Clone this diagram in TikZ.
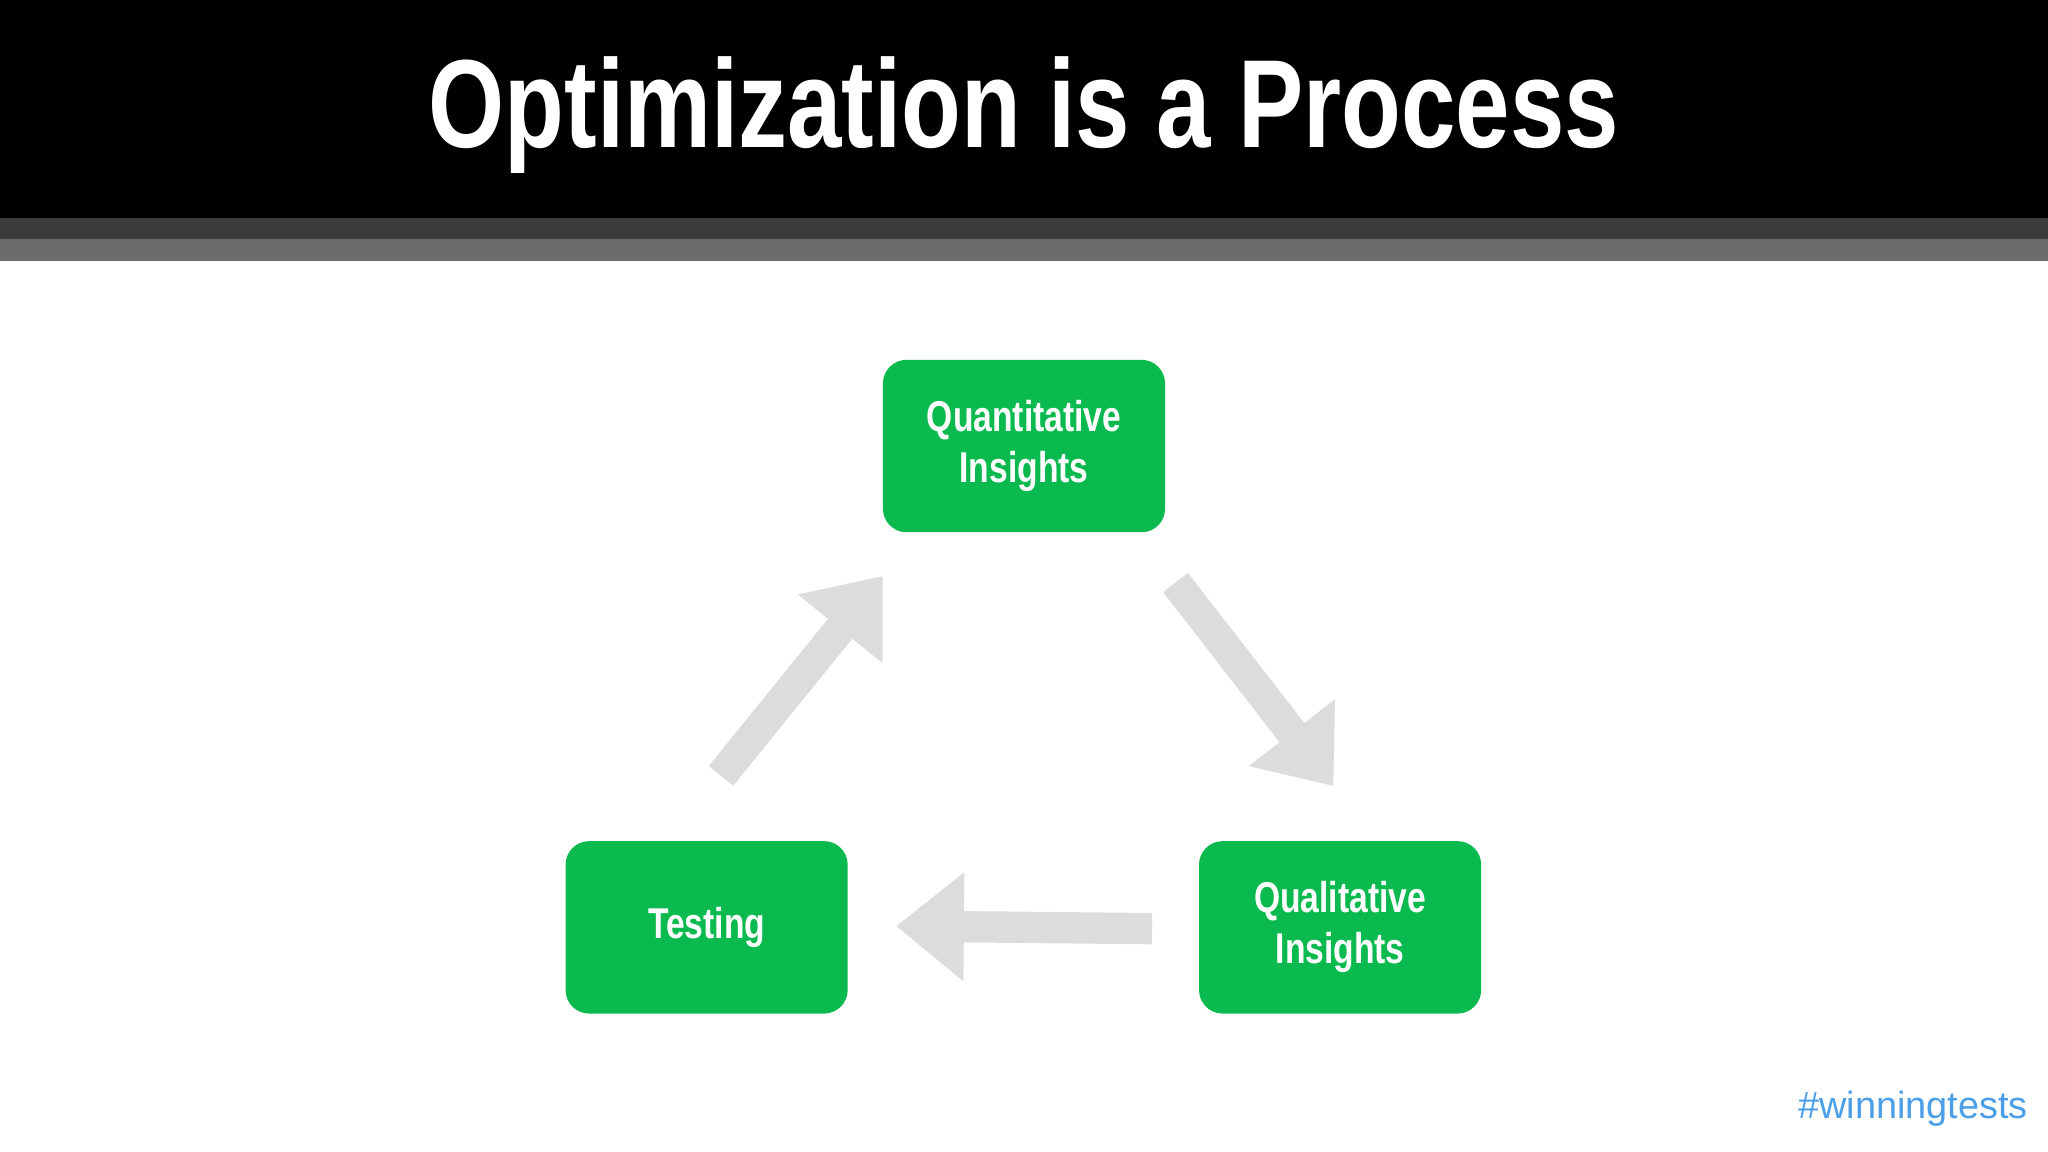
\documentclass[tikz,border=0pt]{standalone}
\usepackage{fontspec}
\setmainfont{Liberation Sans}
\newfontfamily\condb[FakeStretch=0.78]{Liberation Sans Bold}
\usetikzlibrary{arrows.meta}
\definecolor{grn}{HTML}{0BBA4E}
\definecolor{arr}{HTML}{DCDCDC}
\definecolor{tagblue}{HTML}{4A9FE8}
\tikzset{
  box/.style={fill=grn,rounded corners=18pt,minimum width=216pt,minimum height=132pt,text=white,align=center,font=\condb\fontsize{33}{39}\selectfont,inner sep=0pt},
  bigarrow/.style={draw=arr,line width=24pt,-{Triangle[length=52pt,width=80pt]}}
}
\begin{document}
\begin{tikzpicture}[x=1pt,y=-1pt]
\useasboundingbox (0,0) rectangle (1568,882);
\fill[white] (0,0) rectangle (1568,882);
\fill[black] (0,0) rectangle (1568,167);
\fill[black!77] (0,167) rectangle (1568,183);
\fill[black!58] (0,183) rectangle (1568,200);
\node[text=white,font=\condb\fontsize{96}{100}\selectfont] (title) at (784,88) {Optimization is a Process};
\node[box] (qn) at (784,341.5) {Quantitative\\Insights};
\node[box] (ts) at (541,710) {Testing};
\node[box] (ql) at (1026,710) {Qualitative\\Insights};
\coordinate (a1s) at (552,594); \coordinate (a1e) at (676,441);
\coordinate (a2s) at (900,446); \coordinate (a2e) at (1021,602);
\coordinate (a3s) at (882,711); \coordinate (a3e) at (686,709);
\draw[bigarrow] (a1s) -- (a1e);
\draw[bigarrow] (a2s) -- (a2e);
\draw[bigarrow] (a3s) -- (a3e);
\node[text=tagblue,font=\fontsize{29}{32}\selectfont,anchor=east] (tag) at (1556,849) {\#winningtests};
\end{tikzpicture}
\end{document}
